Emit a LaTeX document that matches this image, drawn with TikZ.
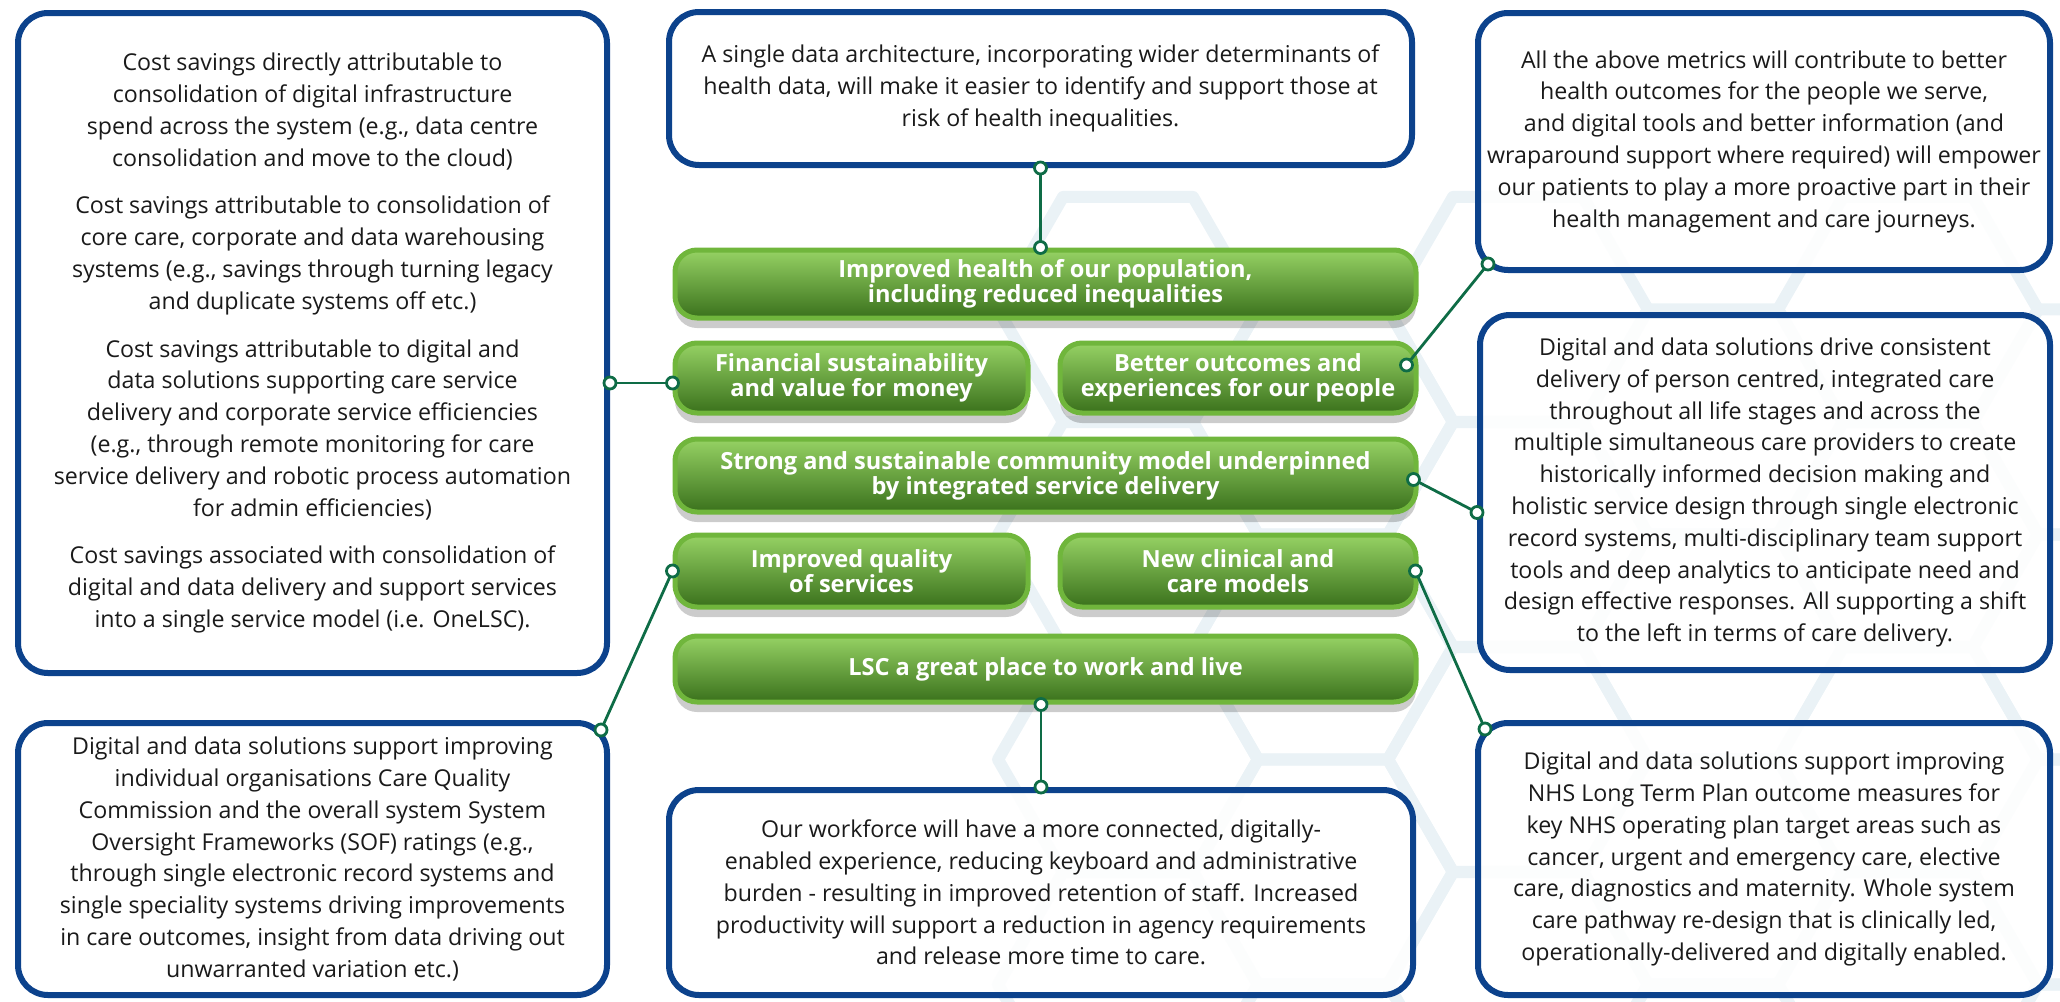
\documentclass[tikz,border=0pt]{standalone}
\usepackage{fontspec}
\IfFontExistsTF{FiraSans-Light.otf}
  {\setmainfont{FiraSans}[Extension=.otf, UprightFont=*-Light, BoldFont=*-SemiBold]}
  {\setmainfont{Open Sans}}
\usepackage{tikz}
\usetikzlibrary{positioning, calc, shadows}
\usepackage{xcolor}
\definecolor{nhsblue}{RGB}{12,66,140}
\definecolor{goalrim}{RGB}{112,182,60}
\definecolor{goaltop}{RGB}{150,210,100}
\definecolor{goalmid}{RGB}{90,152,46}
\definecolor{goalbot}{RGB}{58,113,28}
\definecolor{linkgreen}{RGB}{14,108,70}
\definecolor{hexgrey}{RGB}{234,242,246}
\definecolor{bodytext}{RGB}{26,26,26}
\tikzset{
  infobox/.style={rectangle, rounded corners=15pt, draw=nhsblue, line width=3pt,
                  fill=white, fill opacity=0.88, text opacity=1, text=bodytext,
                  align=center, inner sep=0pt},
  goalbox/.style={rectangle, rounded corners=11pt, draw=goalrim, line width=2.5pt,
                  top color=goaltop, middle color=goalmid, bottom color=goalbot,
                  text=white, align=center, inner sep=0pt,
                  font=\bfseries\fontsize{11.8}{12.5}\selectfont,
                  drop shadow={shadow xshift=0pt, shadow yshift=-5pt,
                               opacity=0.2, fill=black}},
  link/.style={draw=linkgreen, line width=1.4pt},
  hexline/.style={draw=hexgrey, line width=6pt, line join=round},
}

\begin{document}
\begin{tikzpicture}[x=0.5pt, y=-0.5pt,
                    every node/.style={font=\fontsize{11.6}{15.9}\selectfont}]
  \useasboundingbox (0,0) rectangle (2060,1001);
  % background honeycomb
  \begin{scope}
    \clip (0,0) rectangle (2060,1001);
    \foreach \k in {-1,...,4}{
      \foreach \m in {-1,...,4}{
        \pgfmathsetmacro{\cx}{1323+195*\k}
        \pgfmathsetmacro{\cy}{647+225*\m-112.5*mod(abs(\k),2)}
        \draw[hexline] (\cx,\cy) +(0:130) -- +(60:130) -- +(120:130)
          -- +(180:130) -- +(240:130) -- +(300:130) -- cycle;
      }
    }
  \end{scope}

  % blue text boxes
  \node[infobox, minimum width=294.5pt, minimum height=330pt] (costs) at (312.5,343)
    {Cost savings directly attributable to\\
     consolidation of digital infrastructure\\
     spend across the system (e.g., data centre\\
     consolidation and move to the cloud)\\[8pt]
     Cost savings attributable to consolidation of\\
     core care, corporate and data warehousing\\
     systems (e.g., savings through turning legacy\\
     and duplicate systems off etc.)\\[8pt]
     Cost savings attributable to digital and\\
     data solutions supporting care service\\
     delivery and corporate service efficiencies\\
     (e.g., through remote monitoring for care\\
     service delivery and robotic process automation\\
     for admin efficiencies)\\[8pt]
     Cost savings associated with consolidation of\\
     digital and data delivery and support services\\
     into a single service model (i.e. OneLSC).};
  \node[infobox, minimum width=294.5pt, minimum height=136pt] (ratings) at (312.5,859)
    {Digital and data solutions support improving\\
     individual organisations Care Quality\\
     Commission and the overall system System\\
     Oversight Frameworks (SOF) ratings (e.g.,\\
     through single electronic record systems and\\
     single speciality systems driving improvements\\
     in care outcomes, insight from data driving out\\
     unwarranted variation etc.)};
  \node[infobox, minimum width=371.5pt, minimum height=76.5pt] (data) at (1040.5,88.5)
    {A single data architecture, incorporating wider determinants of\\
     health data, will make it easier to identify and support those at\\
     risk of health inequalities.};
  \node[infobox, minimum width=372pt, minimum height=102.5pt] (staff) at (1041,892.5)
    {Our workforce will have a more connected, digitally-\\
     enabled experience, reducing keyboard and administrative\\
     burden - resulting in improved retention of staff. Increased\\
     productivity will support a reduction in agency requirements\\
     and release more time to care.};
  \node[infobox, minimum width=286pt, minimum height=128.5pt] (metrics) at (1764,141.5)
    {All the above metrics will contribute to better\\
     health outcomes for the people we serve,\\
     and digital tools and better information (and\\
     wraparound support where required) will empower\\
     our patients to play a more proactive part in their\\
     health management and care journeys.};
  \node[infobox, minimum width=285pt, minimum height=177.5pt] (integrated) at (1765,492.5)
    {Digital and data solutions drive consistent\\
     delivery of person centred, integrated care\\
     throughout all life stages and across the\\
     multiple simultaneous care providers to create\\
     historically informed decision making and\\
     holistic service design through single electronic\\
     record systems, multi-disciplinary team support\\
     tools and deep analytics to anticipate need and\\
     design effective responses. All supporting a shift\\
     to the left in terms of care delivery.};
  \node[infobox, minimum width=286pt, minimum height=136pt] (ltp) at (1764,859)
    {Digital and data solutions support improving\\
     NHS Long Term Plan outcome measures for\\
     key NHS operating plan target areas such as\\
     cancer, urgent and emergency care, elective\\
     care, diagnostics and maternity. Whole system\\
     care pathway re-design that is clinically led,\\
     operationally-delivered and digitally enabled.};

  % green ambition boxes
  \node[goalbox, minimum width=370.5pt, minimum height=34pt] (health) at (1045.5,284)
    {Improved health of our population,\\including reduced inequalities};
  \node[goalbox, minimum width=176.5pt, minimum height=35pt] (finance) at (851.5,378)
    {Financial sustainability\\and value for money};
  \node[goalbox, minimum width=178pt, minimum height=35pt] (people) at (1238,378)
    {Better outcomes and\\experiences for our people};
  \node[goalbox, minimum width=370.5pt, minimum height=36.5pt] (community) at (1045.5,475.5)
    {Strong and sustainable community model underpinned\\by integrated service delivery};
  \node[goalbox, minimum width=176.5pt, minimum height=36pt] (quality) at (851.5,571)
    {Improved quality\\of services};
  \node[goalbox, minimum width=178pt, minimum height=36pt] (models) at (1238,571)
    {New clinical and\\care models};
  \node[goalbox, minimum width=370.5pt, minimum height=33pt] (place) at (1045.5,669)
    {LSC a great place to work and live};

  % connector ends
  \coordinate (dData) at (data.south);
  \coordinate (dHealth) at (health.north -| data.south);
  \coordinate (dCosts) at ($(costs.east)+(0,40)$);
  \coordinate (dFinance) at (finance.west |- dCosts);
  \coordinate (dPeople) at ($(people.east)+(-12,-13)$);
  \coordinate (dMetrics) at ($(metrics.south west)+(13,-9)$);
  \coordinate (dCommunity) at ($(community.east)+(-5,4)$);
  \coordinate (dIntegrated) at ($(integrated.west)+(0,20)$);
  \coordinate (dQuality) at (quality.west);
  \coordinate (dRatings) at ($(ratings.north east)+(-9,10)$);
  \coordinate (dModels) at ($(models.east)+(-3,0)$);
  \coordinate (dLtp) at ($(ltp.north west)+(10,9)$);
  \coordinate (dPlace) at (place.south -| staff.north);
  \coordinate (dStaff) at (staff.north);

  \draw[link] (dData) -- (dHealth);
  \draw[link] (dCosts) -- (dFinance);
  \draw[link] (dPeople) -- (dMetrics);
  \draw[link] (dCommunity) -- (dIntegrated);
  \draw[link] (dQuality) -- (dRatings);
  \draw[link] (dModels) -- (dLtp);
  \draw[link] (dPlace) -- (dStaff);
  \foreach \d in {dData, dHealth, dCosts, dFinance, dPeople, dMetrics, dCommunity,
                  dIntegrated, dQuality, dRatings, dModels, dLtp, dPlace, dStaff}
    \draw[link, fill=white] (\d) circle (6);
\end{tikzpicture}
\end{document}
